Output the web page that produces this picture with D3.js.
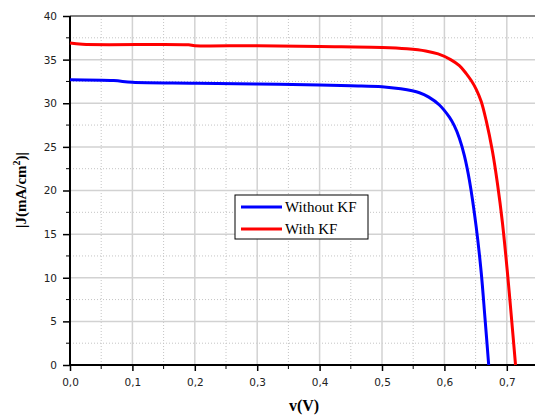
<!DOCTYPE html>
<html>
<head>
<meta charset="utf-8">
<script src="https://cdn.jsdelivr.net/npm/d3@7"></script>
<style>
body { margin: 0; background: #fff; }
svg { display: block; overflow: hidden; }
</style>
</head>
<body>
<div id="chart"></div>
<script>
// curva J-V sin KF
var vSinKF = [0, 0.07, 0.1, 0.2, 0.3, 0.4, 0.45, 0.5, 0.53, 0.56, 0.575, 0.592, 0.608, 0.616, 0.624, 0.632, 0.64, 0.651, 0.659, 0.665, 0.671];
var jSinKF = [32.7, 32.6, 32.4, 32.3, 32.2, 32.1, 32.0, 31.9, 31.65, 31.2, 30.7, 29.8, 28.4, 27.4, 26.0, 24.0, 21.2, 15.8, 10.6, 5.4, 0];
// curva J-V con KF
var vConKF = [0, 0.02, 0.19, 0.2, 0.3, 0.4, 0.5, 0.54, 0.57, 0.59, 0.61, 0.624, 0.635, 0.643, 0.651, 0.659, 0.667, 0.677, 0.685, 0.693, 0.701, 0.707, 0.714];
var jConKF = [36.9, 36.75, 36.7, 36.6, 36.6, 36.5, 36.4, 36.25, 36.0, 35.65, 35.0, 34.3, 33.4, 32.6, 31.6, 30.2, 28.0, 24.5, 20.8, 16.3, 10.6, 5.8, 0];

var series = ["Without KF", "With KF"];
var colores = ["#0000ff", "#ff0000"];
var xTicks = [0, 0.1, 0.2, 0.3, 0.4, 0.5, 0.6, 0.7];
var yTicks = [0, 5, 10, 15, 20, 25, 30, 35, 40];

var width = 535;
var height = 417;
var mLeft = 70, mTop = 16, mRight = 538, mBottom = 365;

var svg = d3.select("#chart")
    .append("svg")
    .attr("width", width)
    .attr("height", height);

var x = d3.scaleLinear().domain([0, 0.75]).range([mLeft, mRight]);
var y = d3.scaleLinear().domain([0, 40]).range([mBottom, mTop]);

var fmt = function(d) { return d3.format(".1f")(d).replace(".", ","); };

// rejilla
var minX = d3.range(0.05, 0.75, 0.1);
var minY = d3.range(2.5, 40, 5);
svg.append("g").selectAll("line").data(minX).enter().append("line")
    .attr("x1", d => x(d)).attr("x2", d => x(d))
    .attr("y1", mTop).attr("y2", mBottom)
    .attr("stroke", "#c4c4c4").attr("stroke-width", 1).attr("stroke-dasharray", "1,2");
svg.append("g").selectAll("line").data(minY).enter().append("line")
    .attr("y1", d => y(d)).attr("y2", d => y(d))
    .attr("x1", mLeft).attr("x2", mRight)
    .attr("stroke", "#c4c4c4").attr("stroke-width", 1).attr("stroke-dasharray", "1,2");
svg.append("g").selectAll("line").data(xTicks.slice(1)).enter().append("line")
    .attr("x1", d => x(d)).attr("x2", d => x(d))
    .attr("y1", mTop).attr("y2", mBottom)
    .attr("stroke", "#d2d2d2").attr("stroke-width", 1.5);
svg.append("g").selectAll("line").data(yTicks.slice(1, -1)).enter().append("line")
    .attr("y1", d => y(d)).attr("y2", d => y(d))
    .attr("x1", mLeft).attr("x2", mRight)
    .attr("stroke", "#d2d2d2").attr("stroke-width", 1.5);

// borde superior
svg.append("line")
    .attr("x1", mLeft).attr("x2", mRight)
    .attr("y1", mTop).attr("y2", mTop)
    .attr("stroke", "#555").attr("stroke-width", 1.5);

// ejes
var xAxis = d3.axisBottom(x).tickValues(xTicks).tickFormat(fmt).tickSize(6).tickPadding(8);
var yAxis = d3.axisLeft(y).tickValues(yTicks).tickFormat(d3.format("d")).tickSize(7).tickPadding(6);

var gx = svg.append("g").attr("transform", "translate(0," + mBottom + ")").call(xAxis);
var gy = svg.append("g").attr("transform", "translate(" + mLeft + ",0)").call(yAxis);

// ticks menores
gx.selectAll(".minor").data(minX).enter().append("line")
    .attr("x1", d => x(d)).attr("x2", d => x(d))
    .attr("y1", 0).attr("y2", 4).attr("stroke", "#000").attr("stroke-width", 1);
gy.selectAll(".minor").data(minY).enter().append("line")
    .attr("y1", d => y(d)).attr("y2", d => y(d))
    .attr("x1", -4).attr("x2", 0).attr("stroke", "#000").attr("stroke-width", 1);

[gx, gy].forEach(g => {
    g.select(".domain").attr("stroke", "#000").attr("stroke-width", 2);
    g.selectAll(".tick line").attr("stroke", "#000").attr("stroke-width", 1.5);
    g.selectAll("text").attr("font-family", "DejaVu Sans").attr("font-size", 10.5).attr("fill", "#222");
});
gx.select(".domain").attr("d", "M" + mLeft + ",0H" + mRight);
gy.select(".domain").attr("d", "M0," + mTop + "V" + mBottom);

// curvas
var linea = d3.line().x(d => x(d[0])).y(d => y(d[1])).curve(d3.curveCatmullRom.alpha(0.5));
var datos = [d3.zip(vSinKF, jSinKF), d3.zip(vConKF, jConKF)];
svg.append("g").selectAll("path").data(datos).enter().append("path")
    .attr("d", linea)
    .attr("fill", "none")
    .attr("stroke", (d, i) => colores[i])
    .attr("stroke-width", 3);

// leyenda
var leg = svg.append("g").attr("transform", "translate(235,195)");
leg.append("rect").attr("width", 133).attr("height", 44)
    .attr("fill", "#fff").attr("stroke", "#000").attr("stroke-width", 1);
series.forEach((s, i) => {
    var yy = 12 + i * 22;
    leg.append("line").attr("x1", 6).attr("x2", 47).attr("y1", yy).attr("y2", yy)
        .attr("stroke", colores[i]).attr("stroke-width", 3);
    leg.append("text").attr("x", 50).attr("y", yy + 5)
        .attr("font-family", "Liberation Serif").attr("font-size", 15)
        .attr("fill", "#000").text(s);
});

// titulos de ejes
svg.append("text")
    .attr("x", 304).attr("y", 411)
    .attr("text-anchor", "middle")
    .attr("font-family", "Liberation Serif").attr("font-weight", "bold").attr("font-size", 16)
    .text("v(V)");

var yl = svg.append("text")
    .attr("transform", "translate(26,190) rotate(-90)")
    .attr("text-anchor", "middle")
    .attr("font-family", "Liberation Serif").attr("font-weight", "bold").attr("font-size", 15);
yl.append("tspan").text("|J(mA/cm");
yl.append("tspan").attr("dy", -6).attr("font-size", 10).text("2");
yl.append("tspan").attr("dy", 6).text(")|");
</script>
</body>
</html>
